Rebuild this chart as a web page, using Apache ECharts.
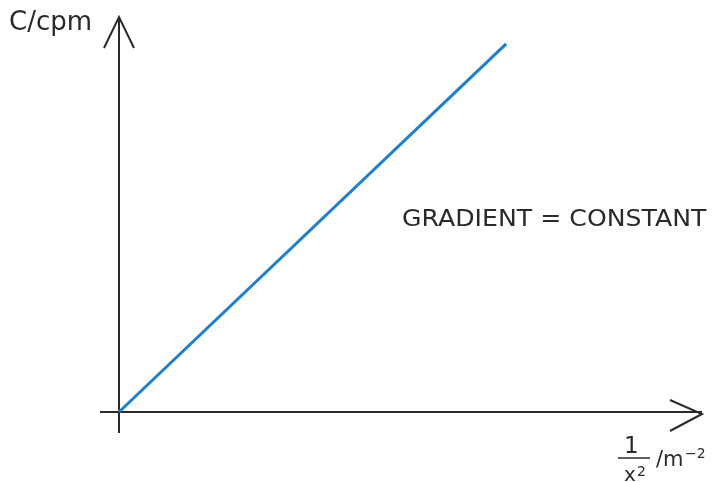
<!DOCTYPE html>
<html>
<head>
<meta charset="utf-8">
<script src="https://cdn.jsdelivr.net/npm/echarts@6/dist/echarts.min.js"></script>
<style>
  html, body { margin: 0; padding: 0; background: #fff; }
  #main { width: 719px; height: 482px; }
</style>
</head>
<body>
<div id="main"></div>
<script>
// C against 1/x^2 : a straight line through the origin
let invXSquared = [0, 66.4];
let countRate = [0, 93.2];
let yAxisTitle = 'C/cpm';
let noteText = 'GRADIENT = CONSTANT';

let chart = echarts.init(document.getElementById('main'));
let ink = '#2a2a2a';
let font = '"DejaVu Sans", sans-serif';

let option = {
    animation: false,
    grid: { left: 119, right: 17, top: 17, bottom: 70 },
    xAxis: {
        type: 'value', min: 0, max: 100,
        axisLine: { show: false }, axisTick: { show: false },
        axisLabel: { show: false }, splitLine: { show: false }
    },
    yAxis: {
        type: 'value', min: 0, max: 100,
        axisLine: { show: false }, axisTick: { show: false },
        axisLabel: { show: false }, splitLine: { show: false }
    },
    series: [{
        type: 'line',
        data: invXSquared.map((v, i) => [v, countRate[i]]),
        showSymbol: false,
        lineStyle: { color: '#1f7fcf', width: 3 },
        z: 3
    }]
};
chart.setOption(option);

// hand-drawn style axes with open arrowheads
let o = chart.convertToPixel('grid', [0, 0]);
let yTop = chart.convertToPixel('grid', [0, 100]);
let xEnd = chart.convertToPixel('grid', [100, 0]);
let axisStyle = { stroke: ink, lineWidth: 2, fill: null };

chart.setOption({
    graphic: [
        { type: 'line', shape: { x1: o[0], y1: o[1] + 21, x2: yTop[0], y2: yTop[1] }, style: axisStyle },
        { type: 'polyline', shape: { points: [[yTop[0] - 15, yTop[1] + 31], [yTop[0], yTop[1]], [yTop[0] + 15, yTop[1] + 31]] }, style: axisStyle },
        { type: 'line', shape: { x1: o[0] - 19, y1: o[1], x2: xEnd[0], y2: xEnd[1] }, style: axisStyle },
        { type: 'polyline', shape: { points: [[xEnd[0] - 32, xEnd[1] - 12], [xEnd[0], xEnd[1] + 2], [xEnd[0] - 32, xEnd[1] + 19]] }, style: axisStyle },
        { type: 'text', x: 9, y: 10, style: { text: yAxisTitle, font: '26px ' + font, fill: ink } },
        { type: 'text', x: 402, y: 209, scaleX: 1.095, style: { text: noteText, font: '23px ' + font, fill: ink } },
        // x-axis title: 1/x^2 / m^-2
        { type: 'text', x: 624, y: 436, style: { text: '1', font: '23px ' + font, fill: ink } },
        { type: 'line', shape: { x1: 618, y1: 458, x2: 650, y2: 458 }, style: { stroke: ink, lineWidth: 1.5 } },
        { type: 'text', x: 624, y: 466, style: { text: 'x', font: '20px ' + font, fill: ink } },
        { type: 'text', x: 637, y: 465, style: { text: '2', font: '14px ' + font, fill: ink } },
        { type: 'text', x: 656, y: 450, style: { text: '/m', font: '21px ' + font, fill: ink } },
        { type: 'text', x: 685, y: 447, style: { text: '−2', font: '14px ' + font, fill: ink } }
    ]
});
</script>
</body>
</html>
